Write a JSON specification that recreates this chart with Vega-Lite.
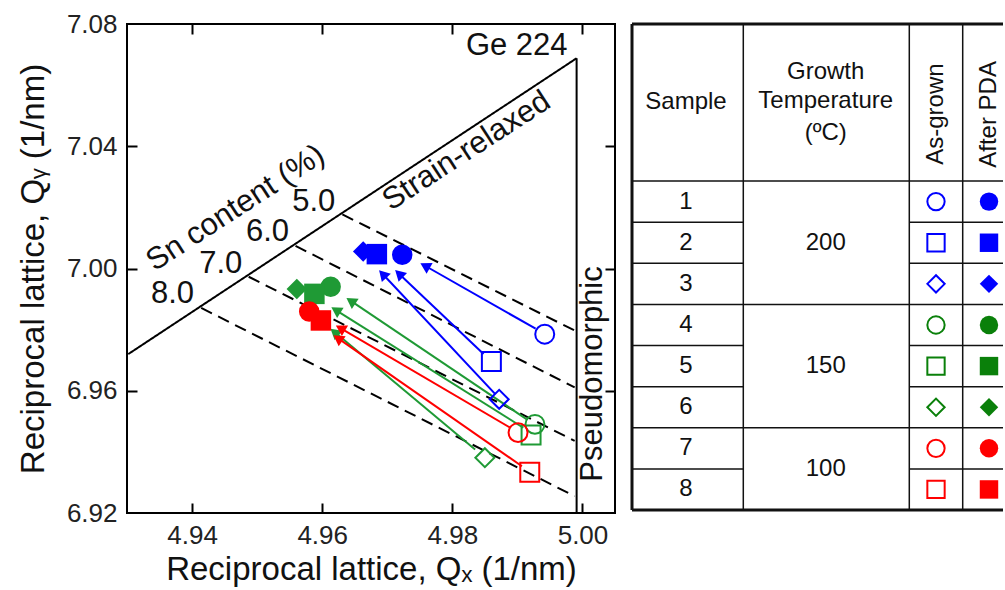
{
  "$schema": "https://vega.github.io/schema/vega-lite/v6.json",
  "background": "white",
  "padding": {"left": 16, "top": 10, "right": 0, "bottom": 0},
  "spacing": 13,
  "config": {
    "font": "Liberation Sans",
    "view": {"stroke": null},
    "axis": {
      "grid": false,
      "domain": false,
      "tickColor": "#000000",
      "tickWidth": 2,
      "tickSize": 10,
      "labelFont": "Liberation Sans",
      "labelFontSize": 26,
      "labelColor": "#222222",
      "titleFont": "Liberation Sans",
      "titleFontSize": 33,
      "titleFontWeight": "normal",
      "titleColor": "#111111"
    }
  },
  "resolve": {"scale": {"color": "independent", "shape": "independent"}},
  "hconcat": [
    {
      "width": 488,
      "height": 489,
      "view": {"stroke": "#000000", "strokeWidth": 2},
      "layer": [
        {
          "data": {"values": [
            {"kind": "solid", "x1": 4.9302, "y1": 6.9720, "x2": 4.9991, "y2": 7.0688},
            {"kind": "solid", "x1": 4.9991, "y1": 7.0688, "x2": 4.9991, "y2": 6.9200},
            {"kind": "dashed", "x1": 4.9631, "y1": 7.0177, "x2": 4.9988, "y2": 6.9797},
            {"kind": "dashed", "x1": 4.9559, "y1": 7.0074, "x2": 4.9988, "y2": 6.9611},
            {"kind": "dashed", "x1": 4.9487, "y1": 6.9973, "x2": 4.9988, "y2": 6.9436},
            {"kind": "dashed", "x1": 4.9414, "y1": 6.9871, "x2": 4.9988, "y2": 6.9255}
          ]},
          "mark": {"type": "rule", "color": "#000000", "strokeWidth": 2},
          "encoding": {
            "x": {"field": "x1", "type": "quantitative",
                  "scale": {"domain": [4.93, 5.005], "nice": false, "zero": false},
                  "axis": {"orient": "bottom", "values": [4.94, 4.96, 4.98, 5.0], "format": ".2f", "ticks": false,
                           "labelPadding": 9, "titlePadding": 5, "title": "Reciprocal lattice, Qₓ (1/nm)"}},
            "y": {"field": "y1", "type": "quantitative",
                  "scale": {"domain": [6.92, 7.08], "nice": false, "zero": false},
                  "axis": {"orient": "left", "values": [6.92, 6.96, 7.0, 7.04, 7.08], "format": ".2f", "ticks": false,
                           "labelPadding": 10, "titlePadding": 16, "title": "Reciprocal lattice, Qᵧ (1/nm)"}},
            "x2": {"field": "x2"},
            "y2": {"field": "y2"},
            "strokeDash": {"field": "kind", "type": "nominal",
                           "scale": {"domain": ["solid", "dashed"], "range": [[1, 0], [12, 7]]}, "legend": null}
          }
        },
        {
          "data": {"values": [
            {"sample": 1, "temp": 200, "x1": 4.9928, "y1": 6.9803, "x2": 4.9758, "y2": 7.0009},
            {"sample": 2, "temp": 200, "x1": 4.9848, "y1": 6.9720, "x2": 4.9718, "y2": 6.9983},
            {"sample": 3, "temp": 200, "x1": 4.9866, "y1": 6.9589, "x2": 4.9693, "y2": 6.9982},
            {"sample": 4, "temp": 150, "x1": 4.9914, "y1": 6.9507, "x2": 4.9644, "y2": 6.9894},
            {"sample": 5, "temp": 150, "x1": 4.9909, "y1": 6.9479, "x2": 4.9621, "y2": 6.9864},
            {"sample": 6, "temp": 150, "x1": 4.9835, "y1": 6.9408, "x2": 4.9619, "y2": 6.9792},
            {"sample": 7, "temp": 100, "x1": 4.9889, "y1": 6.9479, "x2": 4.9628, "y2": 6.9805},
            {"sample": 8, "temp": 100, "x1": 4.9907, "y1": 6.9353, "x2": 4.9624, "y2": 6.9772}
          ]},
          "layer": [
            {
              "mark": {"type": "rule", "strokeWidth": 2},
              "encoding": {
                "x": {"field": "x1", "type": "quantitative",
                      "scale": {"domain": [4.93, 5.005], "nice": false, "zero": false}, "axis": null},
                "y": {"field": "y1", "type": "quantitative",
                      "scale": {"domain": [6.92, 7.08], "nice": false, "zero": false}, "axis": null},
                "x2": {"field": "x2"},
                "y2": {"field": "y2"},
                "color": {"field": "temp", "type": "nominal",
                          "scale": {"domain": [200, 150, 100], "range": ["#0000ff", "#1f9a35", "#ff0000"]}, "legend": null}
              }
            },
            {
              "transform": [{"calculate": "atan2((datum.x2 - datum.x1) * 6507, (datum.y2 - datum.y1) * 3056) * 180 / PI", "as": "ang"}],
              "mark": {"type": "point", "shape": "triangle-up", "filled": true, "opacity": 1, "size": 150},
              "encoding": {
                "x": {"field": "x2", "type": "quantitative",
                      "scale": {"domain": [4.93, 5.005], "nice": false, "zero": false}, "axis": null},
                "y": {"field": "y2", "type": "quantitative",
                      "scale": {"domain": [6.92, 7.08], "nice": false, "zero": false}, "axis": null},
                "angle": {"field": "ang", "type": "quantitative", "scale": null},
                "color": {"field": "temp", "type": "nominal",
                          "scale": {"domain": [200, 150, 100], "range": ["#0000ff", "#1f9a35", "#ff0000"]}, "legend": null}
              }
            }
          ]
        },
        {
          "data": {"values": [
            {"sample": 1, "temp": 200, "state": "As-grown", "qx": 4.9942, "qy": 6.9785},
            {"sample": 2, "temp": 200, "state": "As-grown", "qx": 4.9860, "qy": 6.9696},
            {"sample": 3, "temp": 200, "state": "As-grown", "qx": 4.9872, "qy": 6.9572},
            {"sample": 4, "temp": 150, "state": "As-grown", "qx": 4.9927, "qy": 6.9490},
            {"sample": 5, "temp": 150, "state": "As-grown", "qx": 4.9921, "qy": 6.9455},
            {"sample": 6, "temp": 150, "state": "As-grown", "qx": 4.9850, "qy": 6.9381},
            {"sample": 7, "temp": 100, "state": "As-grown", "qx": 4.9901, "qy": 6.9463},
            {"sample": 8, "temp": 100, "state": "As-grown", "qx": 4.9919, "qy": 6.9333},
            {"sample": 1, "temp": 200, "state": "After PDA", "qx": 4.9723, "qy": 7.0045},
            {"sample": 2, "temp": 200, "state": "After PDA", "qx": 4.9684, "qy": 7.0047},
            {"sample": 3, "temp": 200, "state": "After PDA", "qx": 4.9663, "qy": 7.0056},
            {"sample": 4, "temp": 150, "state": "After PDA", "qx": 4.9613, "qy": 6.9940},
            {"sample": 5, "temp": 150, "state": "After PDA", "qx": 4.9588, "qy": 6.9917},
            {"sample": 6, "temp": 150, "state": "After PDA", "qx": 4.9561, "qy": 6.9933},
            {"sample": 7, "temp": 100, "state": "After PDA", "qx": 4.9580, "qy": 6.9859},
            {"sample": 8, "temp": 100, "state": "After PDA", "qx": 4.9598, "qy": 6.9830}
          ]},
          "encoding": {
            "x": {"field": "qx", "type": "quantitative",
                  "scale": {"domain": [4.93, 5.005], "nice": false, "zero": false}, "axis": null},
            "y": {"field": "qy", "type": "quantitative",
                  "scale": {"domain": [6.92, 7.08], "nice": false, "zero": false}, "axis": null},
            "color": {"field": "temp", "type": "nominal",
                      "scale": {"domain": [200, 150, 100], "range": ["#0000ff", "#1f9a35", "#ff0000"]}, "legend": null},
            "shape": {"field": "sample", "type": "nominal",
                      "scale": {"domain": [1, 2, 3, 4, 5, 6, 7, 8],
                                "range": ["circle", "square", "diamond", "circle", "square", "diamond", "circle", "square"]}, "legend": null}
          },
          "layer": [
            {
              "transform": [{"filter": "datum.state == 'As-grown'"}],
              "mark": {"type": "point", "filled": false, "strokeWidth": 2, "opacity": 1, "size": 360}
            },
            {
              "transform": [{"filter": "datum.state == 'After PDA'"}],
              "mark": {"type": "point", "filled": true, "opacity": 1, "size": 420}
            }
          ]
        },
        {
          "data": {"values": [
            {"t": "Ge 224", "x": 4.9899, "y": 7.0729},
            {"t": "5.0", "x": 4.9587, "y": 7.0219},
            {"t": "6.0", "x": 4.9516, "y": 7.0118},
            {"t": "7.0", "x": 4.9444, "y": 7.0016},
            {"t": "8.0", "x": 4.9370, "y": 6.9918}
          ]},
          "mark": {"type": "text", "fontSize": 31, "align": "center", "baseline": "middle", "color": "#111111"},
          "encoding": {
            "x": {"field": "x", "type": "quantitative",
                  "scale": {"domain": [4.93, 5.005], "nice": false, "zero": false},
                  "axis": {"orient": "top", "offset": -489, "values": [4.94, 4.96, 4.98, 5.0], "labels": false, "title": null}},
            "y": {"field": "y", "type": "quantitative",
                  "scale": {"domain": [6.92, 7.08], "nice": false, "zero": false},
                  "axis": {"orient": "right", "offset": -488, "values": [6.96, 7.0, 7.04], "labels": false, "title": null}},
            "text": {"field": "t"}
          }
        },
        {
          "data": {"values": [
            {"t": "Sn content (%)", "x": 4.9467, "y": 7.0197},
            {"t": "Strain-relaxed", "x": 4.9822, "y": 7.0384}
          ]},
          "mark": {"type": "text", "fontSize": 31, "align": "center", "baseline": "middle", "angle": 327, "color": "#111111"},
          "encoding": {
            "x": {"field": "x", "type": "quantitative",
                  "scale": {"domain": [4.93, 5.005], "nice": false, "zero": false},
                  "axis": {"orient": "bottom", "offset": -489, "values": [4.94, 4.96, 4.98, 5.0], "labels": false, "title": null}},
            "y": {"field": "y", "type": "quantitative",
                  "scale": {"domain": [6.92, 7.08], "nice": false, "zero": false},
                  "axis": {"orient": "left", "offset": -488, "values": [6.96, 7.0, 7.04], "labels": false, "title": null}},
            "text": {"field": "t"}
          }
        },
        {
          "data": {"values": [
            {"t": "Pseudomorphic", "x": 5.0016, "y": 6.9655}
          ]},
          "mark": {"type": "text", "fontSize": 31, "align": "center", "baseline": "middle", "angle": 270, "color": "#111111"},
          "encoding": {
            "x": {"field": "x", "type": "quantitative",
                  "scale": {"domain": [4.93, 5.005], "nice": false, "zero": false}, "axis": null},
            "y": {"field": "y", "type": "quantitative",
                  "scale": {"domain": [6.92, 7.08], "nice": false, "zero": false}, "axis": null},
            "text": {"field": "t"}
          }
        }
      ]
    },
    {
      "width": 371,
      "height": 486,
      "layer": [
        {
          "data": {"values": [
            {"w": "outer", "x1": 0, "y1": -3.82, "x2": 371, "y2": -3.82},
            {"w": "outer", "x1": 0, "y1": 8, "x2": 371, "y2": 8},
            {"w": "outer", "x1": 0, "y1": -3.82, "x2": 0, "y2": 8},
            {"w": "inner", "x1": 111.3, "y1": -3.82, "x2": 111.3, "y2": 8},
            {"w": "inner", "x1": 277.3, "y1": -3.82, "x2": 277.3, "y2": 8},
            {"w": "inner", "x1": 330.7, "y1": -3.82, "x2": 330.7, "y2": 8},
            {"w": "inner", "x1": 0, "y1": 0, "x2": 371, "y2": 0},
            {"w": "inner", "x1": 0, "y1": 3, "x2": 371, "y2": 3},
            {"w": "inner", "x1": 0, "y1": 6, "x2": 371, "y2": 6},
            {"w": "inner", "x1": 0, "y1": 1, "x2": 111.3, "y2": 1},
            {"w": "inner", "x1": 0, "y1": 2, "x2": 111.3, "y2": 2},
            {"w": "inner", "x1": 0, "y1": 4, "x2": 111.3, "y2": 4},
            {"w": "inner", "x1": 0, "y1": 5, "x2": 111.3, "y2": 5},
            {"w": "inner", "x1": 0, "y1": 7, "x2": 111.3, "y2": 7},
            {"w": "inner", "x1": 277.3, "y1": 1, "x2": 371, "y2": 1},
            {"w": "inner", "x1": 277.3, "y1": 2, "x2": 371, "y2": 2},
            {"w": "inner", "x1": 277.3, "y1": 4, "x2": 371, "y2": 4},
            {"w": "inner", "x1": 277.3, "y1": 5, "x2": 371, "y2": 5},
            {"w": "inner", "x1": 277.3, "y1": 7, "x2": 371, "y2": 7}
          ]},
          "mark": {"type": "rule", "color": "#111111"},
          "encoding": {
            "x": {"field": "x1", "type": "quantitative", "scale": {"domain": [0, 371], "nice": false, "zero": false}, "axis": null},
            "y": {"field": "y1", "type": "quantitative", "scale": {"domain": [-3.82, 8], "nice": false, "zero": false, "reverse": true}, "axis": null},
            "x2": {"field": "x2"},
            "y2": {"field": "y2"},
            "strokeWidth": {"field": "w", "type": "nominal", "scale": {"domain": ["outer", "inner"], "range": [3, 1.5]}, "legend": null}
          }
        },
        {
          "data": {"values": [
            {"t": "Sample", "x": 54, "y": -1.92},
            {"t": "Growth", "x": 193.7, "y": -2.65},
            {"t": "Temperature", "x": 193.7, "y": -1.95},
            {"t": "(ºC)", "x": 193.7, "y": -1.18},
            {"t": "1", "x": 54, "y": 0.5},
            {"t": "2", "x": 54, "y": 1.5},
            {"t": "3", "x": 54, "y": 2.5},
            {"t": "4", "x": 54, "y": 3.5},
            {"t": "5", "x": 54, "y": 4.5},
            {"t": "6", "x": 54, "y": 5.5},
            {"t": "7", "x": 54, "y": 6.5},
            {"t": "8", "x": 54, "y": 7.5},
            {"t": "200", "x": 193.7, "y": 1.5},
            {"t": "150", "x": 193.7, "y": 4.5},
            {"t": "100", "x": 193.7, "y": 7.0}
          ]},
          "mark": {"type": "text", "fontSize": 24, "align": "center", "baseline": "middle", "color": "#111111"},
          "encoding": {
            "x": {"field": "x", "type": "quantitative", "scale": {"domain": [0, 371], "nice": false, "zero": false}, "axis": null},
            "y": {"field": "y", "type": "quantitative", "scale": {"domain": [-3.82, 8], "nice": false, "zero": false, "reverse": true}, "axis": null},
            "text": {"field": "t"}
          }
        },
        {
          "data": {"values": [
            {"t": "As-grown", "x": 304, "y": -1.63},
            {"t": "After PDA", "x": 357, "y": -1.62}
          ]},
          "mark": {"type": "text", "fontSize": 24, "align": "center", "baseline": "middle", "angle": 270, "color": "#111111"},
          "encoding": {
            "x": {"field": "x", "type": "quantitative", "scale": {"domain": [0, 371], "nice": false, "zero": false}, "axis": null},
            "y": {"field": "y", "type": "quantitative", "scale": {"domain": [-3.82, 8], "nice": false, "zero": false, "reverse": true}, "axis": null},
            "text": {"field": "t"}
          }
        },
        {
          "data": {"values": [
            {"sample": 1, "temp": 200, "state": "As-grown", "col": 304, "row": 0.5},
            {"sample": 2, "temp": 200, "state": "As-grown", "col": 304, "row": 1.5},
            {"sample": 3, "temp": 200, "state": "As-grown", "col": 304, "row": 2.5},
            {"sample": 4, "temp": 150, "state": "As-grown", "col": 304, "row": 3.5},
            {"sample": 5, "temp": 150, "state": "As-grown", "col": 304, "row": 4.5},
            {"sample": 6, "temp": 150, "state": "As-grown", "col": 304, "row": 5.5},
            {"sample": 7, "temp": 100, "state": "As-grown", "col": 304, "row": 6.5},
            {"sample": 8, "temp": 100, "state": "As-grown", "col": 304, "row": 7.5},
            {"sample": 1, "temp": 200, "state": "After PDA", "col": 357, "row": 0.5},
            {"sample": 2, "temp": 200, "state": "After PDA", "col": 357, "row": 1.5},
            {"sample": 3, "temp": 200, "state": "After PDA", "col": 357, "row": 2.5},
            {"sample": 4, "temp": 150, "state": "After PDA", "col": 357, "row": 3.5},
            {"sample": 5, "temp": 150, "state": "After PDA", "col": 357, "row": 4.5},
            {"sample": 6, "temp": 150, "state": "After PDA", "col": 357, "row": 5.5},
            {"sample": 7, "temp": 100, "state": "After PDA", "col": 357, "row": 6.5},
            {"sample": 8, "temp": 100, "state": "After PDA", "col": 357, "row": 7.5}
          ]},
          "encoding": {
            "x": {"field": "col", "type": "quantitative", "scale": {"domain": [0, 371], "nice": false, "zero": false}, "axis": null},
            "y": {"field": "row", "type": "quantitative", "scale": {"domain": [-3.82, 8], "nice": false, "zero": false, "reverse": true}, "axis": null},
            "color": {"field": "temp", "type": "nominal",
                      "scale": {"domain": [200, 150, 100], "range": ["#0000ff", "#0a800a", "#ff0000"]}, "legend": null},
            "shape": {"field": "sample", "type": "nominal",
                      "scale": {"domain": [1, 2, 3, 4, 5, 6, 7, 8],
                                "range": ["circle", "square", "diamond", "circle", "square", "diamond", "circle", "square"]}, "legend": null}
          },
          "layer": [
            {
              "transform": [{"filter": "datum.state == 'As-grown'"}],
              "mark": {"type": "point", "filled": false, "strokeWidth": 2, "opacity": 1, "size": 300}
            },
            {
              "transform": [{"filter": "datum.state == 'After PDA'"}],
              "mark": {"type": "point", "filled": true, "opacity": 1, "size": 340}
            }
          ]
        }
      ]
    }
  ]
}
